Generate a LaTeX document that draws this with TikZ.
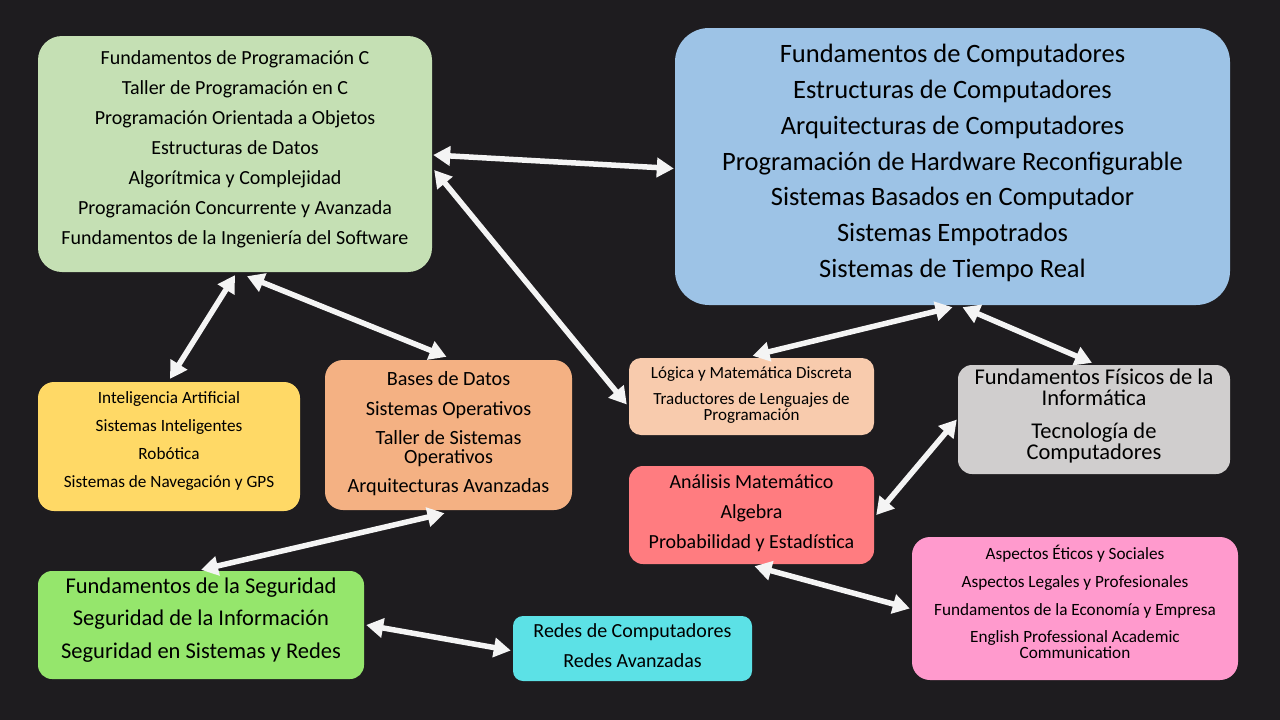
\documentclass[tikz,border=0pt]{standalone}
\usepackage{fontspec}
\setmainfont{Carlito}
\usetikzlibrary{arrows.meta,calc}
\definecolor{bg}{HTML}{1E1C1F}
\definecolor{cgreen}{HTML}{C5E0B4}
\definecolor{cblue}{HTML}{9DC3E6}
\definecolor{cyellow}{HTML}{FFD966}
\definecolor{corange}{HTML}{F4B183}
\definecolor{cpeach}{HTML}{F8CBAD}
\definecolor{cgray}{HTML}{D0CECE}
\definecolor{cred}{HTML}{FF7C80}
\definecolor{cpink}{HTML}{FF9ACD}
\definecolor{cbgreen}{HTML}{95E66C}
\definecolor{ccyan}{HTML}{5CE1E6}
\definecolor{arrowc}{HTML}{F4F4F4}
\tikzset{
  box/.style={rectangle, rounded corners=#1, inner sep=0pt, draw=none},
  txt/.style={align=center, inner sep=0pt, text=black, execute at begin node={\lineskiplimit=-60pt}},
  link/.style={draw=arrowc, line width=5.5pt, {Triangle[length=17pt,width=19pt]}-{Triangle[length=17pt,width=19pt]}}
}
\begin{document}
\begin{tikzpicture}[x=1pt,y=-1pt]
\fill[bg] (0,0) rectangle (1280,720);
\useasboundingbox (0,0) rectangle (1280,720);

% boxes
\node[box=24pt, fill=cgreen, minimum width=394pt, minimum height=236pt] (g) at (235,154) {};
\node[box=34pt, fill=cblue, minimum width=555pt, minimum height=277pt] (b) at (952.5,166.5) {};
\node[box=16pt, fill=cyellow, minimum width=262pt, minimum height=129pt] (y) at (169,446.5) {};
\node[box=18pt, fill=corange, minimum width=247pt, minimum height=150pt] (o) at (448.5,435) {};
\node[box=12pt, fill=cpeach, minimum width=245pt, minimum height=77pt] (p) at (751.5,396.5) {};
\node[box=14pt, fill=cgray, minimum width=272pt, minimum height=109pt] (gr) at (1094,419.5) {};
\node[box=14pt, fill=cred, minimum width=245pt, minimum height=98pt] (r) at (751.5,515) {};
\node[box=18pt, fill=cpink, minimum width=326pt, minimum height=143pt] (pk) at (1075,608.5) {};
\node[box=14pt, fill=cbgreen, minimum width=326pt, minimum height=108pt] (bg) at (201,625) {};
\node[box=10pt, fill=ccyan, minimum width=239pt, minimum height=65pt] (c) at (632.5,648.5) {};

% texts
\node[txt, font=\fontsize{20}{30}\selectfont] (gt) at (235,149) {Fundamentos de Programación C\\Taller de Programación en C\\Programación Orientada a Objetos\\Estructuras de Datos\\Algorítmica y Complejidad\\Programación Concurrente y Avanzada\\Fundamentos de la Ingeniería del Software};
\node[txt, font=\fontsize{26.5}{35.7}\selectfont] (bt) at (952.5,163) {Fundamentos de Computadores\\Estructuras de Computadores\\Arquitecturas de Computadores\\Programación de Hardware Reconfigurable\\Sistemas Basados en Computador\\Sistemas Empotrados\\Sistemas de Tiempo Real};
\node[txt, font=\fontsize{17.2}{28}\selectfont] (yt) at (169,441) {Inteligencia Artificial\\Sistemas Inteligentes\\Robótica\\Sistemas de Navegación y GPS};
\node[txt, font=\fontsize{20.2}{19}\selectfont] (ot) at (448.5,433.5) {Bases de Datos\\[11pt]Sistemas Operativos\\[10pt]Taller de Sistemas\\Operativos\\[10pt]Arquitecturas Avanzadas};
\node[txt, font=\fontsize{17}{16}\selectfont] (pt) at (751.5,395.5) {Lógica y Matemática Discreta\\[10pt]Traductores de Lenguajes de\\Programación};
\node[txt, font=\fontsize{22.5}{20.5}\selectfont] (grt) at (1094,416) {Fundamentos Físicos de la\\Informática\\[13pt]Tecnología de\\Computadores};
\node[txt, font=\fontsize{20}{30}\selectfont] (rt) at (751.5,513) {Análisis Matemático\\Algebra\\Probabilidad y Estadística};
\node[txt, font=\fontsize{17.2}{16}\selectfont] (pkt) at (1075,602) {Aspectos Éticos y Sociales\\[12pt]Aspectos Legales y Profesionales\\[12pt]Fundamentos de la Economía y Empresa\\[11pt]English Professional Academic\\Communication};
\node[txt, font=\fontsize{22.5}{32.5}\selectfont] (bgt) at (201,620) {Fundamentos de la Seguridad\\Seguridad de la Información\\Seguridad en Sistemas y Redes};
\node[txt, font=\fontsize{20}{30}\selectfont] (ct) at (632.5,646) {Redes de Computadores\\Redes Avanzadas};

% connectors
\path[link] ($(g.east)+(1,1)$) -- ($(b.west)+(-1,2)$);
\path[link] ($(g.east)+(2,16)$) -- ($(p.west)+(-2,8)$);
\path[link] ($(g.south)+(0,3)$) -- ($(y.north)+(1,-3)$);
\path[link] ($(g.south)+(12,4)$) -- ($(o.north)+(-2,-3)$);
\path[link] ($(b.south)+(0,2)$) -- ($(p.north)+(1,-2)$);
\path[link] ($(b.south)+(10,2)$) -- ($(gr.north)+(-2,-2)$);
\path[link] ($(gr.west)+(-1,0)$) -- ($(r.east)+(2,0)$);
\path[link] ($(r.south)+(3,2)$) -- ($(pk.west)+(-2,0)$);
\path[link] ($(o.south)+(-4,3)$) -- ($(bg.north)+(0,-1)$);
\path[link] ($(bg.east)+(2,0)$) -- ($(c.west)+(-2,2)$);
\end{tikzpicture}
\end{document}
